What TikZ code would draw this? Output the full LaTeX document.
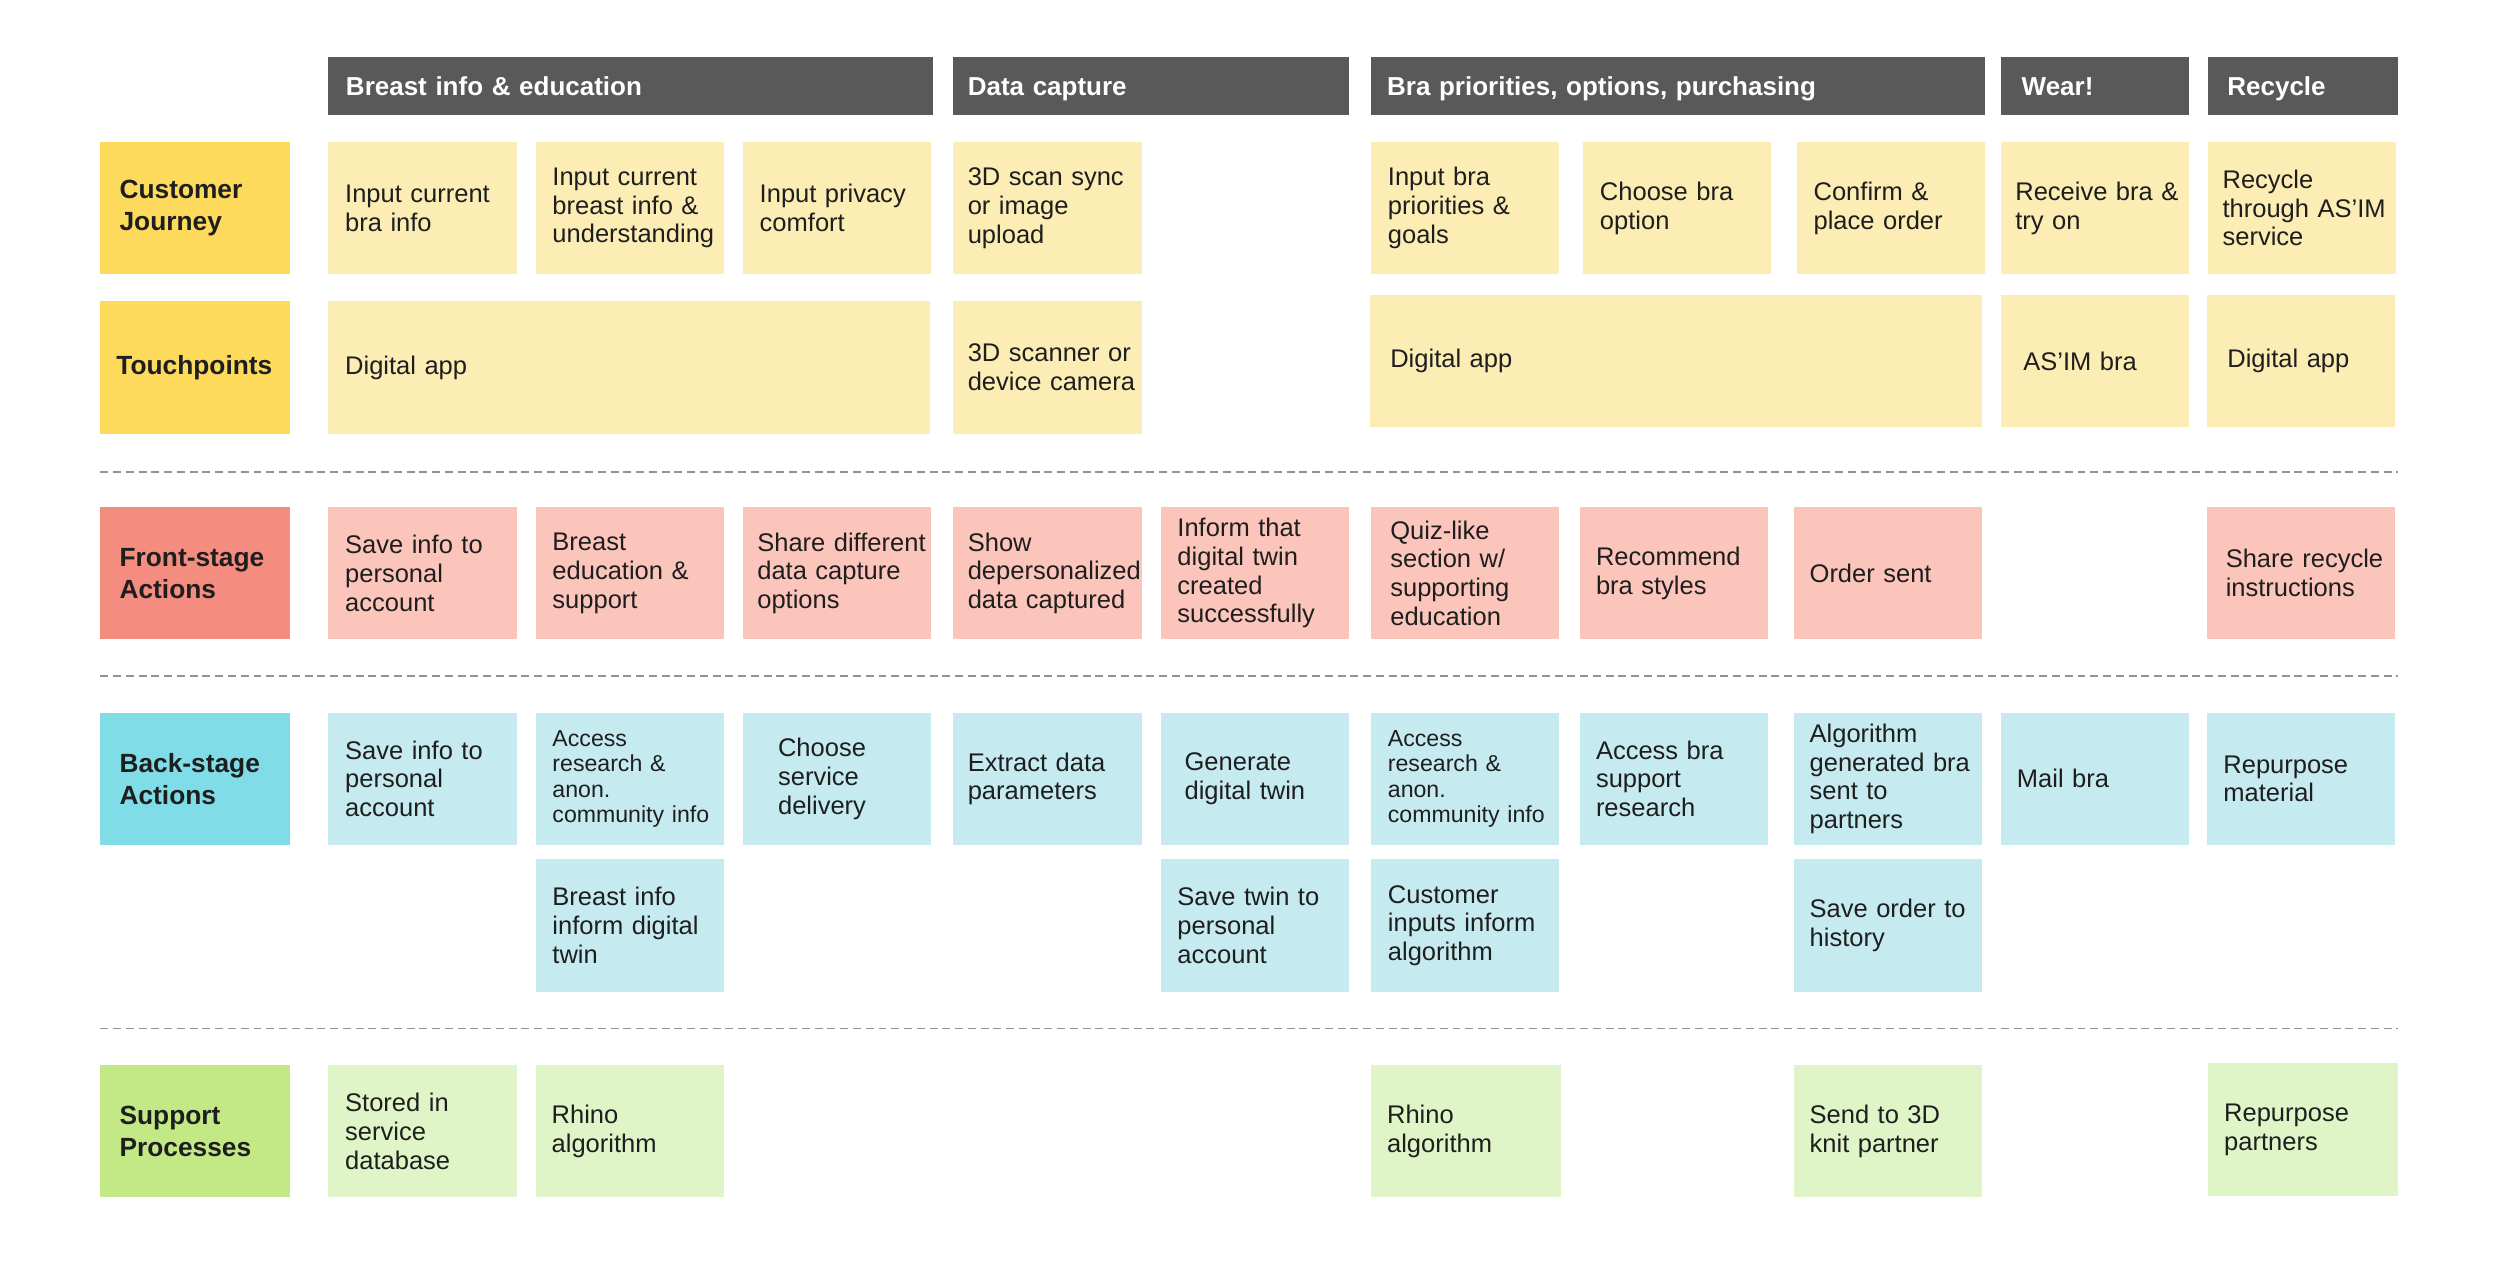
\documentclass[tikz,border=0pt]{standalone}
\usepackage{fontspec}
\setmainfont{Liberation Sans}
\usetikzlibrary{positioning}

\definecolor{headgray}{HTML}{595959}
\definecolor{inkgray}{HTML}{1E1E1E}
\definecolor{cjlane}{HTML}{FDD95C}
\definecolor{cjcard}{HTML}{FCEDB4}
\definecolor{felane}{HTML}{F48C7F}
\definecolor{fecard}{HTML}{FCC5BC}
\definecolor{belane}{HTML}{80DDE8}
\definecolor{becard}{HTML}{C5EBF0}
\definecolor{splane}{HTML}{C3E987}
\definecolor{spcard}{HTML}{DFF5C7}

\tikzset{
  nowrap/.style={execute at begin node={\hyphenpenalty=10000\relax
    \rightskip=0pt plus 1fil minus 1000pt\relax}},
  head/.style={anchor=north west, fill=headgray, text=white, inner xsep=11pt, outer sep=0pt,
    minimum height=36pt, text height=14.5pt, text depth=2.5pt, align=left, nowrap,
    font=\bfseries\fontsize{16.3}{19}\selectfont},
  lane/.style={anchor=north west, text=inkgray, inner xsep=12pt, text width=95pt, outer sep=0pt,
    minimum height=83pt, align=left, nowrap, font=\bfseries\fontsize{16.5}{20}\selectfont},
  card/.style={anchor=north west, text=inkgray, inner xsep=10.5pt, text width=97pt, outer sep=0pt,
    minimum height=83pt, align=left, nowrap, font=\fontsize{16}{18}\selectfont},
  small/.style={font=\fontsize{14.5}{16}\selectfont},
  cj/.style={card, fill=cjcard},
  fe/.style={card, fill=fecard},
  be/.style={card, fill=becard},
  sp/.style={card, fill=spcard},
  sep/.style={draw=gray!85, line width=1pt, dash pattern=on 5pt off 3pt}
}

\begin{document}
\begin{tikzpicture}[x=1pt, y=-1pt]
  \useasboundingbox (0,0) rectangle (1568,792);

  % phases
  \node (h1) [head, text width=357pt] at (206,36) {Breast info \& education};
  \node (h2) [head, inner xsep=9pt, text width=230pt] at (598,36) {Data capture};
  \node (h3) [head, inner xsep=10pt, text width=365pt] at (860,36) {Bra priorities, options, purchasing};
  \node (h4) [head, inner xsep=13pt, text width=92pt] at (1255,36) {Wear!};
  \node (h5) [head, inner xsep=12pt, text width=95pt] at (1385,36) {Recycle};

  % lanes
  \node (ljour) [lane, fill=cjlane] at (63,89) {Customer\\Journey};
  \node (ltouch) [lane, fill=cjlane, inner xsep=10pt, text width=99pt] at (63,189) {Touchpoints};
  \node (lfront) [lane, fill=felane] at (63,318) {Front-stage\\Actions};
  \node (lback) [lane, fill=belane] at (63,447) {Back-stage\\Actions};
  \node (lsupp) [lane, fill=splane] at (63,668) {Support\\Processes};

  % customer journey
  \node (cj1) [cj] at (206,89) {Input current\\bra info};
  \node (cj2) [cj, right=12pt of cj1] {Input current\\breast info \&\\understanding};
  \node (cj3) [cj, right=12pt of cj2] {Input privacy\\comfort};
  \node (cj4) [cj, inner xsep=9pt, text width=100pt, right=14pt of cj3] {3D scan sync\\or image\\upload};
  \node (cj5) [cj] at (860,89) {Input bra\\priorities \&\\goals};
  \node (cj6) [cj, right=15pt of cj5] {Choose bra\\option};
  \node (cj7) [cj, right=16pt of cj6] {Confirm \&\\place order};
  \node (cj8) [cj, inner xsep=9pt, text width=100pt, right=10pt of cj7] {Receive bra \&\\try on};
  \node (cj9) [cj, inner xsep=9pt, text width=100pt, right=12pt of cj8] {Recycle\\through AS’IM\\service};

  % touchpoints
  \node (tp1) [cj, text width=356pt] at (206,189) {Digital app};
  \node (tp2) [cj, inner xsep=9pt, text width=100pt] at (598,189) {3D scanner or\\device camera};
  \node (tp3) [cj, inner xsep=13pt, text width=358pt] at (859,185) {Digital app};
  \node (tp4) [cj, inner xsep=14pt, text width=90pt] at (1255,185) {AS’IM bra};
  \node (tp5) [cj, inner xsep=13pt, text width=92pt] at (1384,185) {Digital app};

  \coordinate (s1a) at (63,296);
  \coordinate (s1b) at (1504,296);
  \draw[sep] (s1a) -- (s1b);

  % front-stage
  \node (fe1) [fe] at (206,318) {Save info to\\personal\\account};
  \node (fe2) [fe, right=12pt of fe1] {Breast\\education \&\\support};
  \node (fe3) [fe, inner xsep=9pt, text width=100pt, right=12pt of fe2] {Share different\\data capture\\options};
  \node (fe4) [fe, inner xsep=9pt, text width=100pt, right=14pt of fe3] {Show\\depersonalized\\data captured};
  \node (fe5) [fe, right=12pt of fe4] {Inform that\\digital twin\\created\\successfully};
  \node (fe6) [fe, inner xsep=12pt, text width=94pt, right=14pt of fe5] {Quiz-like\\section w/\\supporting\\education};
  \node (fe7) [fe, inner xsep=10pt, text width=98pt, right=13pt of fe6] {Recommend\\bra styles};
  \node (fe8) [fe, inner xsep=10pt, text width=98pt, right=16pt of fe7] {Order sent};
  \node (fe9) [fe, inner xsep=12pt, text width=94pt] at (1384,318) {Share recycle\\instructions};

  \coordinate (s2a) at (63,424);
  \coordinate (s2b) at (1504,424);
  \draw[sep] (s2a) -- (s2b);

  % back-stage
  \node (be1) [be] at (206,447) {Save info to\\personal\\account};
  \node (be2) [be, small, right=12pt of be1] {Access\\research \&\\anon.\\community info};
  \node (be3) [be, inner xsep=22pt, text width=74pt, right=12pt of be2] {Choose\\service\\delivery};
  \node (be4) [be, inner xsep=9pt, text width=100pt, right=14pt of be3] {Extract data\\parameters};
  \node (be5) [be, inner xsep=15pt, text width=88pt, right=12pt of be4] {Generate\\digital twin};
  \node (be6) [be, small, right=14pt of be5] {Access\\research \&\\anon.\\community info};
  \node (be7) [be, inner xsep=10pt, text width=98pt, right=13pt of be6] {Access bra\\support\\research};
  \node (be8) [be, inner xsep=10pt, text width=98pt, right=16pt of be7] {Algorithm\\generated bra\\sent to\\partners};
  \node (be9) [be, inner xsep=10pt, text width=98pt, right=12pt of be8] {Mail bra};
  \node (be10) [be, right=11pt of be9] {Repurpose\\material};

  \node (bf2) [be, below=9pt of be2] {Breast info\\inform digital\\twin};
  \node (bf5) [be, below=9pt of be5] {Save twin to\\personal\\account};
  \node (bf6) [be, below=9pt of be6] {Customer\\inputs inform\\algorithm};
  \node (bf8) [be, inner xsep=10pt, text width=98pt, below=9pt of be8] {Save order to\\history};

  \coordinate (s3a) at (63,645);
  \coordinate (s3b) at (1504,645);
  \draw[sep] (s3a) -- (s3b);

  % support
  \node (sp1) [sp] at (206,668) {Stored in\\service\\database};
  \node (sp2) [sp, inner xsep=10pt, text width=98pt, right=12pt of sp1] {Rhino\\algorithm};
  \node (sp3) [sp, inner xsep=10pt, text width=99pt] at (860,668) {Rhino\\algorithm};
  \node (sp4) [sp, inner xsep=10pt, text width=98pt] at (1125,668) {Send to 3D\\knit partner};
  \node (sp5) [sp, inner xsep=10pt, text width=99pt] at (1385,667) {Repurpose\\partners};
\end{tikzpicture}
\end{document}
